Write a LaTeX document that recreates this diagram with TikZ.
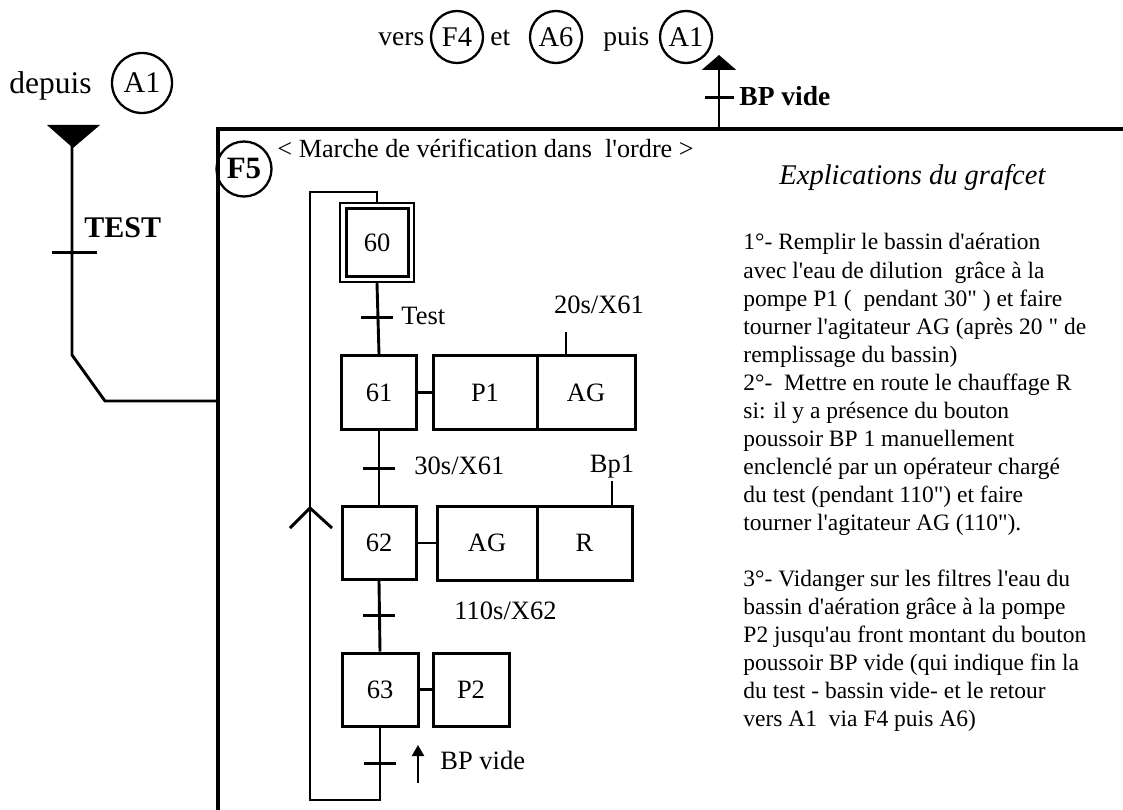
\documentclass[tikz,border=0pt]{standalone}
\usepackage{fontspec}
\setmainfont{Liberation Serif}[Ligatures=TeXOff]
\usetikzlibrary{arrows.meta}
\newcommand\setfs[1]{\fontsize{#1}{#1}\selectfont}
\begin{document}
\begin{tikzpicture}[x=1pt,y=-1pt,line width=2.9pt,
  stepbox/.style={draw,line width=3pt,inner sep=0pt,font=\setfs{26.5}},
  actbox/.style={draw,line width=3pt,inner sep=0pt,font=\setfs{26.5}},
  lab/.style={inner sep=0pt,font=\setfs{26.5}},
  ring/.style={circle,draw,line width=2.3pt,inner sep=0pt,minimum size=52pt,font=\setfs{28.5}},
  tick/.style={line width=3pt},
  body/.style={inner sep=0pt,anchor=base west,font=\setfs{23.5}}]
\useasboundingbox (0,0) rectangle (1123,810);

% ---- top: exit to F4, A6, A1
\node[lab,anchor=base west,font=\setfs{27.5}] (vers) at (377,46) {vers};
\node[ring] (F4) at (457,37) {F4};
\node[lab,anchor=base west,font=\setfs{27.5}] (et) at (489,46) {et};
\node[ring] (A6) at (556,37) {A6};
\node[lab,anchor=base west,font=\setfs{27.5}] (puis) at (602,46) {puis};
\node[ring] (A1t) at (686,37) {A1};
\coordinate (exitTop) at (719,55);
\coordinate (exitBot) at (719,128);
\draw[-{Triangle[length=15pt,width=34pt]}] (exitBot) -- (exitTop);
\coordinate (tEx) at (719,98);
\draw[tick] ([xshift=-14pt]tEx) -- ([xshift=15pt]tEx);
\node[lab,anchor=base west,font=\bfseries\setfs{27.5}] (bpvTop) at (738,106) {BP vide};

% ---- left: entry from A1
\node[lab,anchor=base west,font=\setfs{31.5}] (depuis) at (8,94) {depuis};
\node[ring,minimum size=60pt,font=\setfs{30}] (A1l) at (142,83) {A1};
\fill (47,125) -- (100,125) -- (73,148) -- cycle;
\coordinate (inTop) at (72,146);
\coordinate (inBend1) at (72,355);
\coordinate (inBend2) at (105,401);
\coordinate (tIn) at (72,252);
\node[lab,anchor=base west,font=\bfseries\setfs{30}] (TEST) at (83,237) {TEST};
\draw[tick] ([xshift=-20pt]tIn) -- ([xshift=25pt]tIn);

% ---- frame of F5
\coordinate (frTL) at (218,129);
\draw[line width=3.2pt] (1123,129) -- (frTL) -- (218,810);
\draw (inTop) -- (inBend1) -- (inBend2) -- (inBend2 -| frTL);
\node[circle,draw,line width=2.3pt,minimum size=55pt,inner sep=0pt,font=\bfseries\setfs{31}] (F5) at (244,169) {F5};
\node[lab,anchor=base west,font=\setfs{26.2}] (marche) at (276,158) {< Marche de vérification dans\ \ l'ordre >};

% ---- steps
\node[draw,line width=2.4pt,minimum width=74pt,minimum height=79pt] (s60o) at (377,242.5) {};
\node[stepbox,minimum width=62pt,minimum height=67pt] (s60) at (377,242.5) {60};
\node[stepbox,minimum width=75pt,minimum height=74pt] (s61) at (379,392.5) {61};
\node[stepbox,minimum width=74pt,minimum height=73pt] (s62) at (379,543) {62};
\node[stepbox,minimum width=76pt,minimum height=73pt] (s63) at (380,689.5) {63};

% ---- actions
\node[actbox,minimum width=104pt,minimum height=74pt] (P1) at (485,392.5) {P1};
\node[actbox,minimum width=98pt,minimum height=74pt] (AG1) at (586,392.5) {AG};
\node[actbox,minimum width=100pt,minimum height=74pt] (AG2) at (487,543) {AG};
\node[actbox,minimum width=95pt,minimum height=74pt] (R) at (584.5,543) {R};
\node[actbox,minimum width=76pt,minimum height=73pt] (P2) at (471,689.5) {P2};
\draw (s61.east) -- (P1.west);
\draw (s62.east) -- (AG2.west);
\draw (s63.east) -- (P2.west);

% action conditions
\coordinate (cAG) at (566,332);
\draw (cAG) -- (cAG |- AG1.north);
\node[lab,anchor=base] (c20) at (599,313) {20s/X61};
\coordinate (cR) at (612,481);
\draw (cR) -- (cR |- R.north);
\node[lab,anchor=base] (cBp1) at (612,472) {Bp1};

% ---- links and transitions
\draw (s60o.south) -- (s61.north);
\draw (s61.south) -- (s62.north);
\draw (s62.south) -- (s63.north);
\coordinate (t1) at (377,317);
\coordinate (t2) at (379,468);
\coordinate (t3) at (379,615);
\coordinate (t4) at (380,763);
\foreach \t in {t1,t2,t3,t4}
  \draw[tick] ([xshift=-16pt]\t) -- ([xshift=16pt]\t);
\node[lab,anchor=base west] (rTest) at (400,324) {Test};
\node[lab,anchor=base west] (r30) at (413,474) {30s/X61};
\node[lab,anchor=base west] (r110) at (453,619) {110s/X62};
\coordinate (upBot) at (418,783);
\coordinate (upTop) at (418,745);
\draw[line width=2.3pt,-{Triangle[length=11pt,width=12pt]}] (upBot) -- (upTop);
\node[lab,anchor=base west] (rBP) at (439,769) {BP vide};

% ---- loop back
\coordinate (loopT) at (310,192);
\coordinate (loopB) at (310,800);
\draw (s63.south) -- (s63.south |- loopB) -- (loopB) -- (loopT) -- (s60o.north |- loopT) -- (s60o.north);
\coordinate (chev) at (310,508);
\draw ([shift={(-20,20)}]chev) -- (chev) -- ([shift={(22,20)}]chev);

% ---- explanations
\node[inner sep=0pt,anchor=base west,font=\itshape\setfs{28.5}] (title) at (778,185) {Explications du grafcet};
\foreach \txt [count=\i from 0] in {
  {1°- Remplir le bassin d'aération},
  {avec l'eau de dilution\ \ grâce à la},
  {pompe P1 (\ \ pendant 30" ) et faire},
  {tourner l'agitateur AG (après 20 " de},
  {remplissage du bassin)},
  {2°-\ \ Mettre en route le chauffage R},
  {si: il y a présence du bouton},
  {poussoir BP 1 manuellement},
  {enclenclé par un opérateur chargé},
  {du test (pendant 110") et faire},
  {tourner l'agitateur AG (110").},
  {},
  {3°- Vidanger sur les filtres l'eau du},
  {bassin d'aération grâce à la pompe},
  {P2 jusqu'au front montant du bouton},
  {poussoir BP vide (qui indique fin la},
  {du test - bassin vide- et le retour},
  {vers A1\ \ via F4 puis A6)}}
  \node[body] (ex\i) at (742,{250+28*\i}) {\txt};
\end{tikzpicture}
\end{document}
